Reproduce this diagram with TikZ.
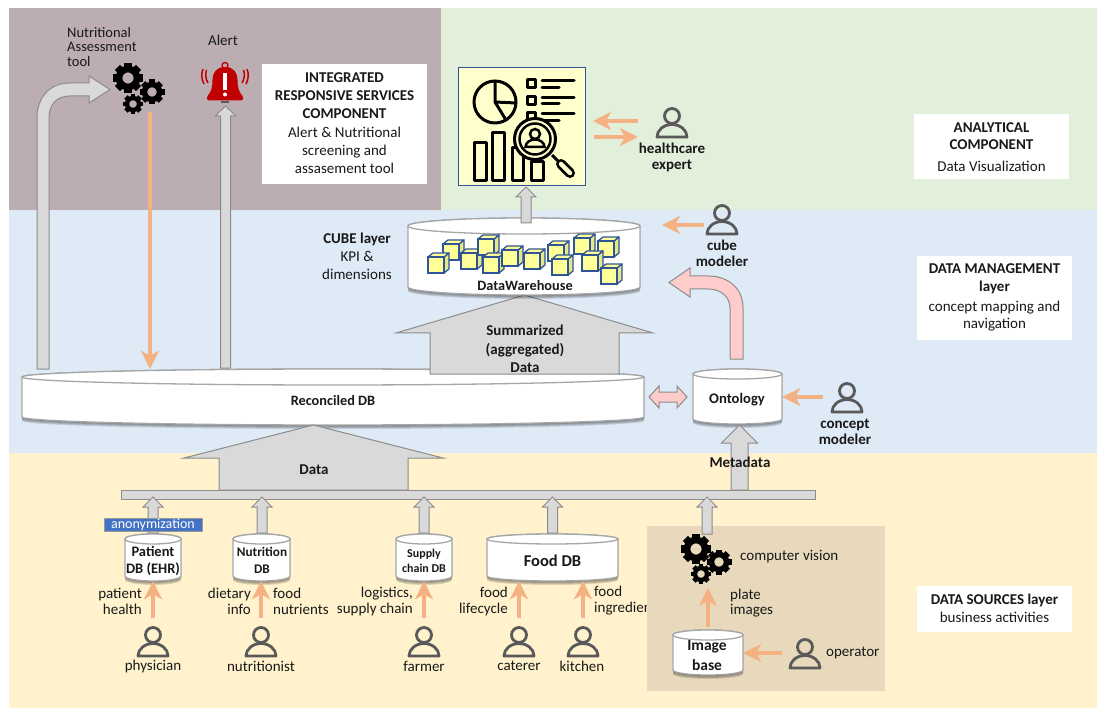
\documentclass[tikz,border=0pt]{standalone}
\usepackage{fontspec}
\setmainfont{Carlito}
\usetikzlibrary{calc,arrows.meta}
\definecolor{bandbrown}{HTML}{BBADB2}
\definecolor{bandgreen}{HTML}{E2EFDA}
\definecolor{bandblue}{HTML}{DEEAF6}
\definecolor{bandyellow}{HTML}{FFF2CC}
\definecolor{boxtan}{HTML}{E8D9BC}
\definecolor{orangeline}{HTML}{F4B183}
\definecolor{blockgray}{HTML}{D9D9D9}
\definecolor{blockedge}{HTML}{8C8C8C}
\definecolor{pinkfill}{HTML}{FFCCCC}
\definecolor{cubeyellow}{HTML}{FFFF99}
\definecolor{cubeside}{HTML}{E6E68A}
\definecolor{cubeedge}{HTML}{2F5597}
\definecolor{dashyellow}{HTML}{FFFFCC}
\definecolor{personedge}{HTML}{595959}
\definecolor{anonblue}{HTML}{4472C4}
\definecolor{bellred}{HTML}{C00000}
\tikzset{
  txt/.style={inner sep=0pt,align=center,text=black!90,font=\fontsize{15}{16}\selectfont},
  txtb/.style={txt,font=\fontsize{15}{16}\bfseries\selectfont},
  infobox/.style={fill=white,draw=none,inner sep=0pt},
  orangearrow/.style={draw=orangeline,line width=3.6pt,-{Stealth[length=18pt,width=18pt,inset=5pt]}},
  blockarrow/.style={fill=blockgray,draw=blockedge,line width=1pt,line join=miter},
  pinkarrow/.style={fill=pinkfill,draw=blockedge,line width=1pt},
  cyledge/.style={draw=black!35,line width=1.3pt,fill=white},
  iconline/.style={draw=black,line width=3pt,line cap=round,line join=round},
}
% name, x1, y1(top), x2, y2(bottom), ry
\newcommand\dbcyl[6]{%
  \pgfmathsetmacro\cx{(#2+#4)/2}\pgfmathsetmacro\rx{(#4-#2)/2}%
  \pgfmathsetmacro\yt{#3+#6}\pgfmathsetmacro\yb{#5-#6}\pgfmathsetmacro\ym{(#3+#5)/2}%
  \foreach \s in {1,2,3,4}{%
    \fill[black,opacity=0.13] (#2,\yt+\s) -- (#2,\yb+\s) arc[start angle=180,end angle=0,x radius=\rx,y radius=#6] -- (#4,\yt+\s) -- cycle;}%
  \path[cyledge] (#2,\yt) arc[start angle=180,end angle=360,x radius=\rx,y radius=#6] -- (#4,\yb) arc[start angle=0,end angle=180,x radius=\rx,y radius=#6] -- cycle;
  \path[cyledge] (\cx,\yt) ellipse[x radius=\rx,y radius=#6];
  \node[inner sep=0pt,minimum width=#4pt-#2pt,minimum height=#5pt-#3pt] (#1) at (\cx,\ym) {};
}
% from, to, shaft half, head half, head length (vertical, pointing up)
\newcommand\blockup[5]{%
  \path[blockarrow] let \p1=(#1),\p2=(#2) in
    (\x1-#3pt,\y1) -- (\x1-#3pt,\y2-#5pt) -- (\x1-#4pt,\y2-#5pt) -- (\x2,\y2) --
    (\x1+#4pt,\y2-#5pt) -- (\x1+#3pt,\y2-#5pt) -- (\x1+#3pt,\y1) -- cycle;
}
% name, head centre x, y
\newcommand\humanicon[3]{%
  \draw[personedge,line width=2.8pt] (#2,#3) circle[radius=7.5];
  \draw[personedge,line width=2.8pt,line join=round] (#2-15,#3+21) arc[start angle=180,end angle=360,x radius=15,y radius=12.5] -- cycle;
  \node[inner sep=0pt,minimum width=32pt,minimum height=30pt] (#1) at (#2,#3+6.5) {};
}
\newcommand\onegear[3]{%
  \foreach \a in {0,45,...,315}{\fill[black,rotate around={\a:(#1,#2)}] (#1-0.24*#3,#2-#3) rectangle (#1+0.24*#3,#2-0.6*#3);}
  \draw[black,line width={0.44*#3}] (#1,#2) circle[radius=0.6*#3];
}
\newcommand\cubeicon[2]{%
  \path[fill=cubeside,draw=cubeedge,line width=1.3pt,line join=round] (#1+16,#2) -- (#1+21,#2-4) -- (#1+21,#2+12) -- (#1+16,#2+16) -- cycle;
  \path[fill=cubeyellow,draw=cubeedge,line width=1.3pt,line join=round] (#1,#2) -- (#1+5,#2-4) -- (#1+21,#2-4) -- (#1+16,#2) -- cycle;
  \path[fill=cubeyellow,draw=cubeedge,line width=1.3pt] (#1,#2) rectangle (#1+16,#2+16);
}
\begin{document}
\begin{tikzpicture}[x=1pt,y=-1pt]
\useasboundingbox (0,0) rectangle (1097,708);
% bands
\fill[bandbrown] (9,8) rectangle (441,210);
\fill[bandgreen] (441,8) rectangle (1097,210);
\fill[bandblue] (9,210) rectangle (1097,453);
\fill[bandyellow] (9,453) rectangle (1097,708);

% text that the tan box partly covers
\node[txt,anchor=west,align=left] (lblingredients) at (594,601) {food\\ingredients};
\fill[boxtan] (647,526) rectangle (885,691);

% info boxes
\node[infobox,minimum width=165pt,minimum height=120pt] (boxirs) at (344.5,124) {};
\node[txtb,font=\fontsize{15}{18}\bfseries\selectfont] (lblirs) at (344.5,96) {INTEGRATED\\RESPONSIVE SERVICES\\COMPONENT};
\node[txt,font=\fontsize{15}{18}\selectfont] (lblirs2) at (344.5,150) {Alert \& Nutritional\\screening and\\assasement tool};
\node[infobox,minimum width=155pt,minimum height=65pt] (boxana) at (991.5,146.5) {};
\node[txtb,font=\fontsize{15}{17}\bfseries\selectfont] (lblana) at (991.5,136.5) {ANALYTICAL\\COMPONENT};
\node[txt] (lblana2) at (991.5,166) {Data Visualization};
\node[infobox,minimum width=155pt,minimum height=84pt] (boxdm) at (994.5,298) {};
\node[txtb,font=\fontsize{15}{18}\bfseries\selectfont] (lbldm) at (994.5,279) {DATA MANAGEMENT\\layer};
\node[txt,font=\fontsize{15}{17}\selectfont] (lbldm2) at (994.5,316.5) {concept mapping and\\navigation};
\node[infobox,minimum width=155pt,minimum height=46pt] (boxds) at (994.5,609) {};
\node[txtb] (lblds) at (994.5,600) {DATA SOURCES layer};
\node[txt] (lblds2) at (994.5,617) {business activities};

% reconciled DB
\dbcyl{recon}{22}{369}{644}{425}{8}
\node[txtb,font=\fontsize{14.3}{16}\bfseries\selectfont] (lblrecon) at (333,401) {Reconciled DB};

% top-left gears, bell
\onegear{128}{78}{15}
\onegear{152}{92}{12.5}
\onegear{133}{104}{10}
\node[inner sep=0pt,minimum width=52pt,minimum height=46pt] (toolgears) at (140,89) {};
\node[txt,anchor=north west,align=left,font=\fontsize{14.5}{14.5}\selectfont] (lbltool) at (67,27) {Nutritional\\Assessment\\tool};
\node[txt] (lblalert) at (223,40) {Alert};

% bell
\draw[bellred,line width=1.3pt] (225,65.5) circle[radius=3];
\fill[bellred] (225,67) .. controls (216,67) and (212.5,73) .. (212.5,80) .. controls (212.5,88) and (211,92) .. (207.5,96) .. controls (206,98) and (206.5,100.5) .. (209,100.5) -- (241,100.5) .. controls (243.5,100.5) and (244,98) .. (242.5,96) .. controls (239,92) and (237.5,88) .. (237.5,80) .. controls (237.5,73) and (234,67) .. (225,67) -- cycle;
\fill[white] (223.3,73) rectangle (226.7,90);
\fill[white] (225,94.5) circle[radius=2];
\fill[black!65] (221,101) rectangle (229,103.5);
\draw[bellred,line width=1.5pt] (206.5,70) .. controls (205,74) and (205.5,79) .. (208,83);
\draw[bellred,line width=1.5pt] (203,69) .. controls (201,74) and (201.5,79) .. (204,84);
\draw[bellred,line width=1.5pt] (243.5,70) .. controls (245,74) and (244.5,79) .. (242,83);
\draw[bellred,line width=1.5pt] (247,69) .. controls (249,74) and (248.5,79) .. (246,84);

% arrows to services
\path[blockarrow] (37,369) -- (37,118) .. controls (37,97) and (50,83) .. (70,83) -- (89,83) -- (89,76) -- (110,89.5) -- (89,103) -- (89,96) -- (70,96) .. controls (57,96) and (49,104) .. (49,118) -- (49,369) -- cycle;
\coordinate (alertbase) at (225.5,368);
\coordinate (alerttip) at (225.5,106);
\blockup{alertbase}{alerttip}{5}{10.5}{10}
\coordinate (toolout) at (150,112);
\draw[orangearrow] (toolout) -- (toolout |- recon.north);

% summarized arrow
\coordinate (sumbase) at (524.5,374);
\coordinate (sumtip) at (524.5,295);
\blockup{sumbase}{sumtip}{94.5}{128.5}{38}
\node[txtb,font=\fontsize{15}{18.5}\bfseries\selectfont] (lblsum) at (525,349) {Summarized\\(aggregated)\\Data};

% datawarehouse
\dbcyl{dw}{408}{218}{640}{295}{8}
\cubeicon{443}{244}
\cubeicon{428}{257}
\cubeicon{461}{253}
\cubeicon{478}{239}
\cubeicon{483}{257}
\cubeicon{502}{250}
\cubeicon{524}{253}
\cubeicon{548}{245}
\cubeicon{552}{259}
\cubeicon{574}{238}
\cubeicon{598}{241}
\cubeicon{582}{255}
\cubeicon{601}{268}
\node[txtb,font=\fontsize{14.3}{16}\bfseries\selectfont] (lbldw) at (525,286) {DataWarehouse};
\node[txt,font=\fontsize{15}{18}\selectfont] (lblcube) at (357,256) {\textbf{CUBE layer}\\KPI \&\\dimensions};

% dashboard
\node[draw=cubeedge,fill=dashyellow,line width=1pt,inner sep=0pt,minimum width=127pt,minimum height=118pt] (dash) at (521.5,127) {};
\draw[iconline] (495,102) circle[radius=21];
\draw[iconline] (495,81) -- (495,102) -- (516,103);
\draw[iconline] (495,102) -- (506,120);
\draw[iconline] (527,80) rectangle (535,88);
\draw[iconline] (527,97) rectangle (535,105);
\draw[iconline] (527,113) rectangle (535,121);
\foreach \yy/\xx in {81/574,88/559,98/574,104/559,114/574,121/559}{\draw[iconline] (542,\yy) -- (\xx,\yy);}
\draw[iconline] (474,143) rectangle (486,181);
\draw[iconline] (492,133) rectangle (504,181);
\draw[iconline] (512,148) rectangle (523,181);
\draw[iconline] (531,162) rectangle (543,181);
\draw[black,line width=3pt] (552,155) -- (560,163);
\draw[black,line width=10pt,line cap=round] (561,164) -- (570,173);
\draw[dashyellow,line width=4.5pt,line cap=round] (561,164) -- (570,173);
\path[fill=dashyellow,draw=black,line width=3pt] (535,139) circle[radius=20.5];
\draw[black,line width=2.5pt] (535,139) circle[radius=15.5];
\draw[black,line width=2.5pt] (535,134) circle[radius=5];
\draw[black,line width=2.5pt] (525.5,147) arc[start angle=180,end angle=360,x radius=9.5,y radius=7.5] -- cycle;
\coordinate (dwout) at (526,223);
\coordinate (dashin) at (526,187);
\blockup{dwout}{dashin}{5}{10}{10}

% ontology
\dbcyl{onto}{693}{369}{782}{424}{5}
\node[txtb,font=\fontsize{14.6}{16}\bfseries\selectfont] (lblonto) at (737,400) {Ontology};
\path[pinkarrow] (649,397) -- (659,386) -- (659,392) -- (677,392) -- (677,386) -- (687,397) -- (677,408) -- (677,402) -- (659,402) -- (659,408) -- cycle;
\path[pinkarrow] (730,359) -- (743,359) -- (743,308) .. controls (743,288) and (728,276) .. (708,276) -- (690,276) -- (690,268) -- (669,282.5) -- (690,297) -- (690,289) -- (708,289) .. controls (721,289) and (730,297) .. (730,308) -- cycle;

% bar and arrows onto it
\node[draw=blockedge,fill=blockgray,line width=1pt,inner sep=0pt,minimum width=694pt,minimum height=9pt] (bar) at (468,494.5) {};
\coordinate (database) at (313.5,490);
\coordinate (datatip) at (313.5,425);
\blockup{database}{datatip}{94.5}{129.5}{33}
\node[txtb] (lbldata) at (314,470) {Data};
\coordinate (metabase) at (739.5,490);
\coordinate (metatip) at (739.5,425);
\blockup{metabase}{metatip}{8.5}{18}{18}
\node[txtb] (lblmeta) at (740,462) {Metadata};

% source DBs
\dbcyl{patient}{125}{534}{181}{581}{5}
\dbcyl{nutri}{233}{534}{290}{581}{5}
\dbcyl{supply}{396}{534}{452}{581}{5}
\dbcyl{food}{487}{534}{618}{581}{5}
\coordinate (pbase) at (153,533); \coordinate (ptip) at (153,497);
\blockup{pbase}{ptip}{5}{10}{10}
\coordinate (nbase) at (262,533); \coordinate (ntip) at (262,497);
\blockup{nbase}{ntip}{5}{10}{10}
\coordinate (sbase) at (424,533); \coordinate (stip) at (424,497);
\blockup{sbase}{stip}{5}{10}{10}
\coordinate (fbase) at (552.5,533); \coordinate (ftip) at (552.5,497);
\blockup{fbase}{ftip}{5}{10}{10}
\coordinate (cvbase) at (707,534); \coordinate (cvtip) at (707,497);
\blockup{cvbase}{cvtip}{5}{10}{10}
\node[draw=black!40,fill=anonblue,line width=1pt,inner sep=0pt,minimum width=98pt,minimum height=13pt,text=white,font=\fontsize{14}{14}\selectfont] (anon) at (153,524.5) {anonymization};
\node[txtb,font=\fontsize{14.5}{17}\bfseries\selectfont] (lblpatient) at (153,560.5) {Patient\\DB (EHR)};
\node[txtb,font=\fontsize{13.2}{17}\bfseries\selectfont] (lblnutri) at (262,560.5) {Nutrition\\DB};
\node[txtb,font=\fontsize{12}{15}\bfseries\selectfont] (lblsupply) at (424,560.5) {Supply\\chain DB};
\node[txtb,font=\fontsize{16.5}{18}\bfseries\selectfont] (lblfood) at (552.5,561) {Food DB};

% people
\humanicon{physician}{153}{635}
\humanicon{nutritionist}{261}{635}
\humanicon{farmer}{424}{635}
\humanicon{caterer}{519}{635}
\humanicon{kitchen}{583}{635}
\humanicon{operator}{805}{647}
\humanicon{concept}{847}{391}
\humanicon{cubemod}{722}{213}
\humanicon{expert}{672}{116}
\node[txt] (lblphysician) at (153,666) {physician};
\node[txt] (lblnutritionist) at (261,666) {nutritionist};
\node[txt] (lblfarmer) at (424,666) {farmer};
\node[txt] (lblcaterer) at (519,666) {caterer};
\node[txt] (lblkitchen) at (582,666) {kitchen};
\node[txt,anchor=west] (lbloperator) at (826,653) {operator};
\node[txtb] (lblconcept) at (845,432) {concept\\modeler};
\node[txtb] (lblcubemod) at (722,253) {cube\\modeler};
\node[txtb] (lblexpert) at (672,157) {healthcare\\expert};
\node[txt,anchor=east,align=right] (lblhealth) at (142,601) {patient\\health};
\node[txt,anchor=east,align=right] (lbldiet) at (251,601) {dietary\\info};
\node[txt,anchor=west,align=left] (lblnutrients) at (273,601) {food\\nutrients};
\node[txt,anchor=east,align=right] (lbllog) at (413,601) {logistics,\\supply chain};
\node[txt,anchor=east,align=right] (lbllife) at (508,601) {food\\lifecycle};

\draw[orangearrow,shorten <=8pt] (physician.north) -- (patient.south -| physician.north);
\draw[orangearrow,shorten <=8pt] (nutritionist.north) -- (nutri.south -| nutritionist.north);
\draw[orangearrow,shorten <=8pt] (farmer.north) -- (supply.south -| farmer.north);
\draw[orangearrow,shorten <=8pt] (caterer.north) -- (food.south -| caterer.north);
\draw[orangearrow,shorten <=8pt] (kitchen.north) -- (food.south -| kitchen.north);

% image base
\dbcyl{imagebase}{673}{630}{743}{675}{5}
\node[txtb,font=\fontsize{15.5}{20}\bfseries\selectfont] (lblimage) at (707,656) {Image\\base};
\onegear{696}{549}{15}
\onegear{719}{562}{12.5}
\onegear{701}{574}{10}
\node[inner sep=0pt,minimum width=52pt,minimum height=46pt] (cvgears) at (708,562) {};
\node[txt,anchor=west] (lblcv) at (740,557) {computer vision};
\node[txt,anchor=west,align=left,font=\fontsize{15}{15}\selectfont] (lblplate) at (730,603) {plate\\images};
\coordinate (imgout) at (708,627);
\coordinate (cvin) at (708,588);
\draw[orangearrow] (imgout) -- (cvin);
\coordinate (opout) at (782,653);
\draw[orangearrow] (opout) -- (imagebase.east |- opout);

% right side people arrows
\coordinate (conceptout) at (823,397);
\draw[orangearrow] (conceptout) -- (onto.east |- conceptout);
\coordinate (cubeout) at (704,225);
\coordinate (cubein) at (662,225);
\draw[orangearrow] (cubeout) -- (cubein);
\coordinate (ex1a) at (638,121);
\coordinate (ex1b) at (593,121);
\coordinate (ex2a) at (594,137);
\coordinate (ex2b) at (638,137);
\draw[orangearrow] (ex1a) -- (ex1b);
\draw[orangearrow] (ex2a) -- (ex2b);
\end{tikzpicture}
\end{document}
